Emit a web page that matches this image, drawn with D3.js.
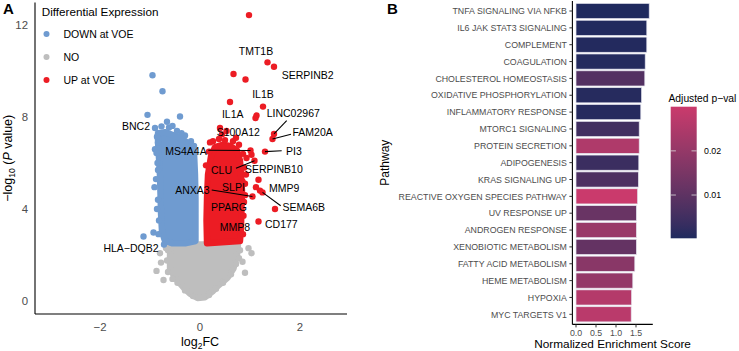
<!DOCTYPE html>
<html lang="en">
<head>
  <meta charset="UTF-8">
  <title>Volcano plot and enrichment</title>
  <script src="https://d3js.org/d3.v7.min.js"></script>
  <style>
    body { margin: 0; background: #fff; font-family: 'Liberation Sans', Arial, sans-serif; }
    svg text { font-family: 'Liberation Sans', Arial, sans-serif; }
  </style>
</head>
<body>
  <div class="chart"></div>
  <script>
    // ---- panel A data (log2FC, -log10 P) ----
    const grayCloud = [[-0.58, 2.45], [-0.6, 2.0], [-0.6, 1.4], [-0.5, 1.0], [-0.34, 0.6], [-0.2, 0.3], [-0.05, 0.12],
      [0.1, 0.15], [0.25, 0.4], [0.36, 0.65], [0.55, 1.0], [0.67, 1.4], [0.74, 2.0], [0.76, 2.45]];
    const downCloud = [[-0.84, 7.3], [-0.7, 7.35], [-0.52, 7.2], [-0.36, 7.05], [-0.2, 6.8], [-0.12, 6.5], [-0.1, 5.5],
      [-0.09, 4.5], [-0.09, 3.5], [-0.09, 2.6], [-0.3, 2.5], [-0.55, 2.5], [-0.7, 2.6], [-0.76, 3.0], [-0.78, 3.8],
      [-0.79, 4.6], [-0.8, 5.4], [-0.82, 6.2], [-0.84, 6.9]];
    const upCloud = [[0.14, 2.5], [0.13, 3.5], [0.14, 4.5], [0.16, 5.5], [0.22, 6.3], [0.3, 6.7], [0.45, 6.8],
      [0.6, 6.75], [0.74, 6.55], [0.8, 6.1], [0.82, 5.5], [0.84, 4.8], [0.83, 4.0], [0.82, 3.2], [0.8, 2.6]];

    // points along the ragged edges of the clouds
    const grayEdge = [[-0.64, 2.2], [-0.66, 1.75], [-0.64, 1.25], [-0.55, 0.95], [-0.45, 0.78], [-0.3, 0.45],
      [-0.14, 0.2], [0.18, 0.25], [0.32, 0.52], [0.46, 0.78], [0.62, 1.15], [0.72, 1.6], [0.8, 2.2], [0.78, 1.85]];
    const downEdge = [[-0.86, 7.15], [-0.9, 6.6], [-0.85, 6.0], [-0.88, 5.3], [-0.84, 4.4], [-0.82, 3.5],
      [-0.83, 2.9], [-0.72, 2.45], [-0.77, 7.6], [-0.62, 7.55], [-0.46, 7.4], [-0.3, 7.2], [-0.18, 6.95],
      [-0.12, 6.75], [-0.66, 7.8], [-0.55, 7.62], [-0.86, 4.0], [-0.84, 5.7]];
    const upEdge = [[0.18, 6.5], [0.26, 6.95], [0.38, 7.05], [0.5, 7.0], [0.66, 6.95], [0.78, 6.8], [0.86, 6.4],
      [0.88, 5.8], [0.9, 5.1], [0.88, 4.3], [0.87, 3.7], [0.86, 2.9], [0.12, 5.9], [0.2, 6.9], [0.44, 7.25],
      [0.72, 7.1], [0.92, 5.5], [0.9, 4.6]];

    // individual points outside the clouds
    const grayPts = [[-0.8, 2.07], [-0.78, 1.66], [-0.87, 1.3], [-0.73, 0.9], [-0.68, 2.3], [0.9, 1.22], [1.03, 2.07],
      [0.97, 2.29], [0.85, 1.7]];
    const downPts = [[-0.95, 9.83], [-0.75, 9.13], [-1.05, 8.1], [-0.4, 8.03], [-1.13, 2.8], [-0.93, 2.97],
      [-0.91, 4.95], [-0.87, 6.44], [-0.9, 7.53], [-0.84, 6.89], [-0.37, 7.3]];
    const upPts = [[0.98, 12.45], [1.35, 10.39], [1.48, 10.2], [0.67, 9.88], [0.91, 9.64], [1.26, 8.46], [0.6, 8.66],
      [1.11, 7.96], [1.13, 8.07], [1.48, 7.27], [1.45, 7.05], [0.4, 7.53], [0.53, 7.4], [1.01, 6.55], [1.3, 6.5],
      [1.09, 6.1], [1.03, 6.36], [0.93, 6.22], [1.17, 5.27], [1.12, 4.95], [1.2, 4.8], [1.05, 4.54], [1.25, 4.72],
      [1.5, 4.0], [1.17, 3.45], [0.8, 3.38], [0.85, 5.2], [0.7, 4.4], [0.75, 3.3]];

    // labelled genes: name, log2FC, -log10 P
    const genes = ['TMT1B', 'SERPINB2', 'IL1B', 'IL1A', 'LINC02967', 'FAM20A', 'S100A12', 'MS4A4A', 'PI3', 'CLU',
      'SERPINB10', 'SLPI', 'MMP9', 'ANXA3', 'SEMA6B', 'PPARG', 'CD177', 'MMP8', 'BNC2', 'HLA\u2212DQB2'];
    const geneFC = [1.35, 1.48, 1.26, 0.6, 1.48, 1.45, 1.08, 1.01, 1.3, 1.09, 1.12, 0.85, 1.2, 1.05, 1.25, 0.7, 1.5, 0.75, -1.05, -1.13];
    const geneP = [10.39, 10.2, 8.46, 8.66, 7.27, 7.05, 7.93, 6.55, 6.5, 6.1, 6.25, 5.2, 4.8, 4.54, 4.72, 4.4, 4.0, 3.3, 8.1, 2.8];

    const legendKeys = ['DOWN at VOE', 'NO', 'UP at VOE'];

    // ---- panel B data ----
    const pathways = ['TNFA SIGNALING VIA NFKB', 'IL6 JAK STAT3 SIGNALING', 'COMPLEMENT', 'COAGULATION',
      'CHOLESTEROL HOMEOSTASIS', 'OXIDATIVE PHOSPHORYLATION', 'INFLAMMATORY RESPONSE', 'MTORC1 SIGNALING',
      'PROTEIN SECRETION', 'ADIPOGENESIS', 'KRAS SIGNALING UP', 'REACTIVE OXYGEN SPECIES PATHWAY', 'UV RESPONSE UP',
      'ANDROGEN RESPONSE', 'XENOBIOTIC METABOLISM', 'FATTY ACID METABOLISM', 'HEME METABOLISM', 'HYPOXIA',
      'MYC TARGETS V1'];
    const nes = [1.83, 1.77, 1.77, 1.73, 1.72, 1.64, 1.62, 1.58, 1.58, 1.57, 1.56, 1.54, 1.51, 1.51, 1.51, 1.47, 1.42, 1.39, 1.38];
    const padj = [0.0002, 0.0005, 0.0006, 0.0008, 0.008, 0.001, 0.001, 0.005, 0.025, 0.004, 0.007, 0.030, 0.012,
      0.021, 0.011, 0.018, 0.020, 0.026, 0.027];
    const nesTicks = [0, 0.5, 1.0, 1.5];
    const padjTicks = [0.01, 0.02];

    // ---- layout ----
    const W = 739, H = 351;
    const colDown = '#6f9bd0', colNo = '#bebebe', colUp = '#ec1c24';
    const axisGray = '#4d4d4d';

    const svg = d3.select('.chart').append('svg').attr('width', W).attr('height', H);

    // ===== Panel A =====
    const xA = d3.scaleLinear().domain([-2, 2]).range([100, 300]);
    const yA = d3.scaleLinear().domain([0, 12]).range([300.7, 25.4]);
    const xDom = [-3.3, 2.94], yDom = [-0.58, 13.0];

    const gA = svg.append('g');
    const line = d3.line().x(d => xA(d[0])).y(d => yA(d[1])).curve(d3.curveLinearClosed);
    const clouds = [[grayCloud, colNo], [downCloud, colDown], [upCloud, colUp]];
    const pts = [[grayEdge, colNo], [grayPts, colNo], [downEdge, colDown], [downPts, colDown], [upEdge, colUp], [upPts, colUp]];
    clouds.forEach(([c, col]) => {
      gA.append('path').attr('d', line(c)).attr('fill', col).attr('stroke', col)
        .attr('stroke-width', 6.4).attr('stroke-linejoin', 'round');
    });
    pts.forEach(([p, col]) => {
      gA.selectAll(null).data(p).join('circle')
        .attr('cx', d => xA(d[0])).attr('cy', d => yA(d[1])).attr('r', 3.2).attr('fill', col);
    });

    // axes (lines only, no ticks)
    gA.append('line').attr('x1', xA(xDom[0])).attr('x2', xA(xDom[0])).attr('y1', yA(yDom[0])).attr('y2', yA(yDom[1]))
      .attr('stroke', '#000').attr('stroke-width', 1.1);
    gA.append('line').attr('x1', xA(xDom[0])).attr('x2', xA(xDom[1])).attr('y1', yA(yDom[0])).attr('y2', yA(yDom[0]))
      .attr('stroke', '#000').attr('stroke-width', 1.1);
    const yTicksA = [0, 4, 8, 12];
    gA.selectAll(null).data(yTicksA).join('text')
      .attr('x', 28).attr('y', d => yA(d) + 4).attr('text-anchor', 'end')
      .attr('font-size', 11.4).attr('fill', axisGray).text(d => d);
    const xTicksA = [-2, 0, 2];
    gA.selectAll(null).data(xTicksA).join('text')
      .attr('x', d => xA(d)).attr('y', 331).attr('text-anchor', 'middle')
      .attr('font-size', 11.4).attr('fill', axisGray).text(d => d < 0 ? '\u2212' + Math.abs(d) : d);

    // axis titles
    const xt = gA.append('text').attr('x', xA(0)).attr('y', 346).attr('text-anchor', 'middle').attr('font-size', 12.5);
    xt.append('tspan').text('log');
    xt.append('tspan').attr('font-size', 8.5).attr('dy', 3).text('2');
    xt.append('tspan').attr('dy', -3).text('FC');
    const yt = gA.append('text').attr('transform', `translate(12,${(yA(yDom[0]) + yA(yDom[1])) / 2}) rotate(-90)`)
      .attr('text-anchor', 'middle').attr('font-size', 12.5);
    yt.append('tspan').text('\u2212log');
    yt.append('tspan').attr('font-size', 8.5).attr('dy', 3).text('10');
    yt.append('tspan').attr('dy', -3).text(' (');
    yt.append('tspan').attr('font-style', 'italic').text('P');
    yt.append('tspan').text(' value)');

    // gene labels; offsets are layout (pixels) for each gene, some with leader lines
    const labelLayout = {
      'TMT1B': { dx: -11.5, dy: -11, a: 'middle' },
      'SERPINB2': { dx: 7.7, dy: 9, a: 'start' },
      'IL1B': { dx: 0, dy: -12, a: 'middle' },
      'IL1A': { dx: 2.7, dy: 12, a: 'middle' },
      'LINC02967': { dx: -7.3, dy: -20.5, a: 'start', seg: [286.7, 120.7] },
      'FAM20A': { dx: 20, dy: -7, a: 'start', seg: [291, 134.3] },
      'S100A12': { dx: -15.7, dy: 13.6, a: 'middle' },
      'MS4A4A': { dx: -64.5, dy: 0.3, a: 'middle', seg: [208.3, 150.3] },
      'PI3': { dx: 21, dy: -0.2, a: 'start', seg: [281.7, 150.7] },
      'CLU': { dx: -33, dy: 9, a: 'middle', seg: [236, 168.3] },
      'SERPINB10': { dx: -11, dy: 11.7, a: 'start' },
      'SLPI': { dx: -9, dy: 5.7, a: 'middle' },
      'MMP9': { dx: 9, dy: -2, a: 'start' },
      'ANXA3': { dx: -60, dy: -6, a: 'middle', seg: [211.7, 190] },
      'SEMA6B': { dx: 20, dy: 14.6, a: 'start', seg: [280.7, 205.7] },
      'PPARG': { dx: -6, dy: 7.8, a: 'middle' },
      'CD177': { dx: -10, dy: 15, a: 'start' },
      'MMP8': { dx: -2.5, dy: 2.6, a: 'middle' },
      'BNC2': { dx: -11.5, dy: 11, a: 'middle' },
      'HLA\u2212DQB2': { dx: -12.5, dy: 11.7, a: 'middle' }
    };
    genes.forEach((g, i) => {
      const px = xA(geneFC[i]), py = yA(geneP[i]);
      const L = labelLayout[g];
      if (L.seg) {
        gA.append('line').attr('x1', L.seg[0]).attr('y1', L.seg[1]).attr('x2', px).attr('y2', py)
          .attr('stroke', '#000').attr('stroke-width', 1.1);
      }
      gA.append('text').attr('x', px + L.dx).attr('y', py + L.dy + 3.8).attr('text-anchor', L.a)
        .attr('font-size', 10.5).attr('fill', '#000').text(g);
    });

    // legend
    gA.append('text').attr('x', 41.7).attr('y', 16).attr('font-size', 11.7).text('Differential Expression');
    const legCols = [colDown, colNo, colUp];
    legendKeys.forEach((k, i) => {
      const cy = 34 + i * 23;
      gA.append('circle').attr('cx', 46.5).attr('cy', cy).attr('r', 3).attr('fill', legCols[i]);
      gA.append('text').attr('x', 63.5).attr('y', cy + 3.8).attr('font-size', 10.5).text(k);
    });

    svg.append('text').attr('x', 3).attr('y', 14).attr('font-size', 15).attr('font-weight', 'bold').text('A');
    svg.append('text').attr('x', 387).attr('y', 14).attr('font-size', 15).attr('font-weight', 'bold').text('B');

    // ===== Panel B =====
    const xB = d3.scaleLinear().domain([0, 1.5]).range([576, 636]);
    const stepB = 16.85;
    const yB = d3.scaleBand().domain(pathways).range([11 - stepB / 2, 11 - stepB / 2 + stepB * pathways.length])
      .paddingInner(0.1).paddingOuter(0.05);
    const padjExt = d3.extent(padj);
    const lowCol = '#1f2a5e', highCol = '#ca3a6c';
    const color = d3.scaleLinear().domain(padjExt).range([lowCol, highCol]).interpolate(d3.interpolateLab);

    const gB = svg.append('g');
    gB.selectAll(null).data(pathways).join('rect')
      .attr('x', xB(0)).attr('y', d => yB(d)).attr('height', yB.bandwidth())
      .attr('width', (d, i) => xB(nes[i]) - xB(0))
      .attr('fill', (d, i) => color(padj[i])).attr('stroke', '#e4e4ee').attr('stroke-width', 0.7);

    const panelTop = 1, panelBottom = 324.4;
    const xLeft = xB(-0.09), xRight = xB(1.92);
    gB.append('line').attr('x1', xLeft).attr('x2', xLeft).attr('y1', panelTop).attr('y2', panelBottom)
      .attr('stroke', '#000').attr('stroke-width', 1.1);
    gB.append('line').attr('x1', xLeft).attr('x2', xRight).attr('y1', panelBottom).attr('y2', panelBottom)
      .attr('stroke', '#000').attr('stroke-width', 1.1);

    // category ticks + labels
    gB.selectAll(null).data(pathways).join('line')
      .attr('x1', xLeft - 3).attr('x2', xLeft).attr('y1', d => yB(d) + yB.bandwidth() / 2)
      .attr('y2', d => yB(d) + yB.bandwidth() / 2).attr('stroke', '#333').attr('stroke-width', 1);
    gB.selectAll(null).data(pathways).join('text')
      .attr('x', xLeft - 5.5).attr('y', d => yB(d) + yB.bandwidth() / 2 + 3.2).attr('text-anchor', 'end')
      .attr('font-size', 8.8).attr('fill', axisGray).text(d => d);

    gB.selectAll(null).data(nesTicks).join('line')
      .attr('x1', d => xB(d)).attr('x2', d => xB(d)).attr('y1', panelBottom).attr('y2', panelBottom + 3)
      .attr('stroke', '#333').attr('stroke-width', 1);
    gB.selectAll(null).data(nesTicks).join('text')
      .attr('x', d => xB(d)).attr('y', panelBottom + 11.5).attr('text-anchor', 'middle')
      .attr('font-size', 8.8).attr('fill', axisGray).text(d => d3.format('.1f')(d));

    gB.append('text').attr('x', (xLeft + xRight) / 2).attr('y', 348).attr('text-anchor', 'middle')
      .attr('font-size', 11.8).text('Normalized Enrichment Score');
    gB.append('text').attr('transform', `translate(389,${(panelTop + panelBottom) / 2}) rotate(-90)`)
      .attr('text-anchor', 'middle').attr('font-size', 12).text('Pathway');

    // colour bar legend
    const cbX = 670.7, cbW = 26, cbTop = 106.7, cbBot = 238.3;
    const cbY = d3.scaleLinear().domain(padjExt).range([cbBot, cbTop]);
    const grad = svg.append('defs').append('linearGradient').attr('id', 'cb')
      .attr('x1', 0).attr('y1', 1).attr('x2', 0).attr('y2', 0);
    d3.range(0, 1.0001, 0.1).forEach(t => {
      grad.append('stop').attr('offset', t).attr('stop-color', color(padjExt[0] + t * (padjExt[1] - padjExt[0])));
    });
    gB.append('text').attr('x', 668.5).attr('y', 102).attr('font-size', 10.3).text('Adjusted p\u2212val');
    gB.append('rect').attr('x', cbX).attr('y', cbTop).attr('width', cbW).attr('height', cbBot - cbTop).attr('fill', 'url(#cb)');
    padjTicks.forEach(t => {
      const y = cbY(t);
      gB.append('line').attr('x1', cbX).attr('x2', cbX + 5.2).attr('y1', y).attr('y2', y).attr('stroke', '#ddd').attr('stroke-width', 0.8);
      gB.append('line').attr('x1', cbX + cbW - 5.2).attr('x2', cbX + cbW).attr('y1', y).attr('y2', y).attr('stroke', '#ddd').attr('stroke-width', 0.8);
      gB.append('text').attr('x', 704).attr('y', y + 3.3).attr('font-size', 8.8).attr('fill', '#000').text(t.toFixed(2));
    });
  </script>
</body>
</html>
